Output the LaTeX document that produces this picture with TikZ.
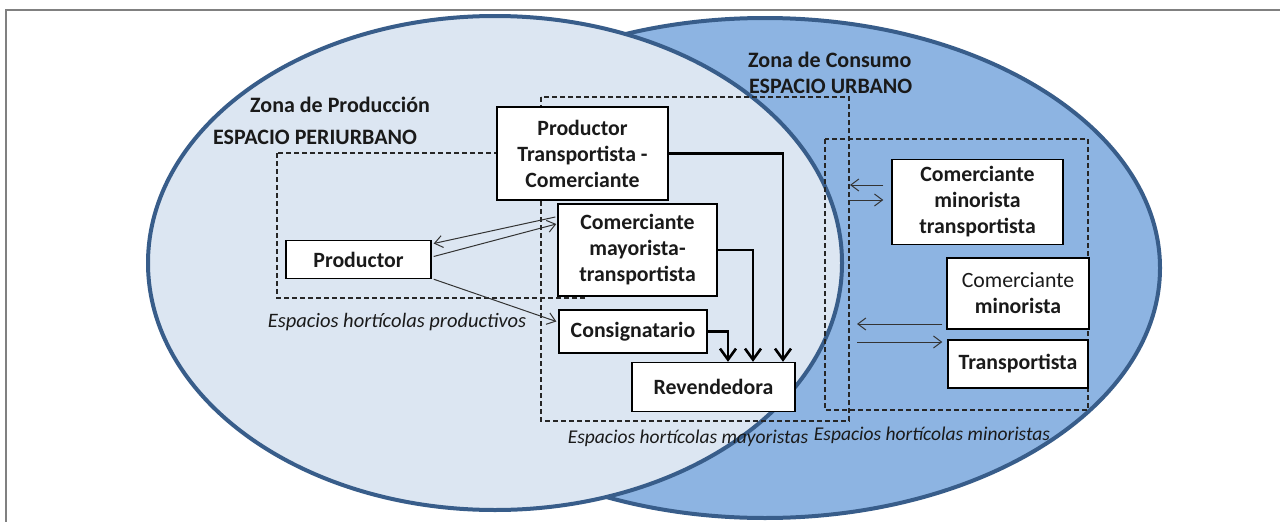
\documentclass[tikz,border=0pt]{standalone}
\usepackage{fontspec}
\setmainfont{Carlito}
\usetikzlibrary{arrows.meta}
\definecolor{lightfill}{HTML}{DCE6F2}
\definecolor{midfill}{HTML}{8DB4E2}
\definecolor{edgeblue}{HTML}{385D8A}
\definecolor{framegray}{HTML}{808080}
\definecolor{txt}{HTML}{1A1A1A}
\begin{document}
\begin{tikzpicture}[x=1pt,y=-1pt,
  box/.style={draw=black, line width=1.4pt, fill=white, inner sep=0pt, align=center,
    font=\bfseries\fontsize{21.8}{26}\selectfont, text=txt},
  zone/.style={draw=edgeblue, line width=4pt},
  region/.style={draw=black!85, line width=1.1pt, dash pattern=on 5pt off 3pt},
  zonetitle/.style={font=\bfseries\fontsize{22}{26}\selectfont, text=txt, inner sep=0pt, anchor=base west},
  spacelabel/.style={font=\itshape\fontsize{19.5}{24}\selectfont, text=txt, inner sep=0pt, anchor=base},
  thinarr/.style={draw=black!80, line width=1pt, -{Straight Barb[length=8pt,width=12pt]}},
  bigarr/.style={draw=black, line width=2.6pt, -{Straight Barb[length=11pt,width=16pt]}},
]
\useasboundingbox (0,0) rectangle (1280,522);
% frame
\draw[framegray, line width=1.5pt] (6,522) -- (6,10) -- (1280,10);
% zones
\filldraw[zone, fill=midfill] (765,268) ellipse [x radius=395, y radius=250];
\filldraw[zone, fill=lightfill] (495,263) ellipse [x radius=347, y radius=247];
% dashed regions
\draw[region] (277,153) rectangle (587,298);
\draw[region] (541,97) rectangle (849,421);
\draw[region] (825,139) rectangle (1088,410);
% titles
\node[zonetitle] (zp) at (250,112) {Zona de Producción};
\node[zonetitle] (ep) at (213,144) {ESPACIO PERIURBANO};
\node[zonetitle] (zc) at (748,67) {Zona de Consumo};
\node[zonetitle] (eu) at (749,93) {ESPACIO URBANO};
\node[spacelabel, font=\itshape\fontsize{20.5}{24}\selectfont] (lp) at (397,327) {Espacios hortícolas productivos};
\node[spacelabel] (lma) at (688,443) {Espacios hortícolas mayoristas};
\node[spacelabel] (lmi) at (932,440) {Espacios hortícolas minoristas};
% boxes
\node[box, minimum width=171pt, minimum height=93pt] (ptc) at (582.5,153.5) {Productor\\Transportista -\\Comerciante};
\node[box, minimum width=159pt, minimum height=92pt] (cmt) at (637.5,250) {Comerciante\\mayorista-\\transportista};
\node[box, minimum width=148pt, minimum height=43pt] (cons) at (633,331.5) {Consignatario};
\node[box, minimum width=163pt, minimum height=49pt] (rev) at (713.5,387) {Revendedora};
\node[box, minimum width=145pt, minimum height=38pt] (prod) at (358.5,259.5) {Productor};
\node[box, minimum width=171pt, minimum height=85pt] (cmint) at (977.5,202) {Comerciante\\minorista\\transportista};
\node[box, minimum width=142pt, minimum height=71pt] (cmin) at (1018,293.5) {{\mdseries Comerciante}\\minorista};
\node[box, minimum width=140pt, minimum height=48pt] (transp) at (1018,364) {Transportista};
% thick arrows
\draw[bigarr] (ptc.east) -| ([xshift=69.5pt]rev.north);
\draw[bigarr] (cmt.east) -| ([xshift=39.5pt]rev.north);
\draw[bigarr] (cons.east) -| ([xshift=14.5pt]rev.north);
% thin arrows
\draw[thinarr] ([shift={(-2,-33)}]cmt.west) -- ([shift={(2,-16)}]prod.east);
\draw[thinarr] ([shift={(2,-3)}]prod.east) -- ([shift={(-1,-26)}]cmt.west);
\draw[thinarr] ([shift={(2,0)}]prod.south east) -- ([shift={(-2,-10)}]cons.west);
\coordinate (r1) at (850,185);
\coordinate (r2) at (850,200);
\coordinate (r3) at (857,324);
\coordinate (r4) at (857,342);
\draw[thinarr] ([shift={(-8,-17)}]cmint.west) -- (r1);
\draw[thinarr] (r2) -- ([shift={(-8,-2)}]cmint.west);
\draw[thinarr] ([shift={(-4,30.5)}]cmin.west) -- (r3);
\draw[thinarr] (r4) -- ([shift={(-5,-22)}]transp.west);
\end{tikzpicture}
\end{document}
